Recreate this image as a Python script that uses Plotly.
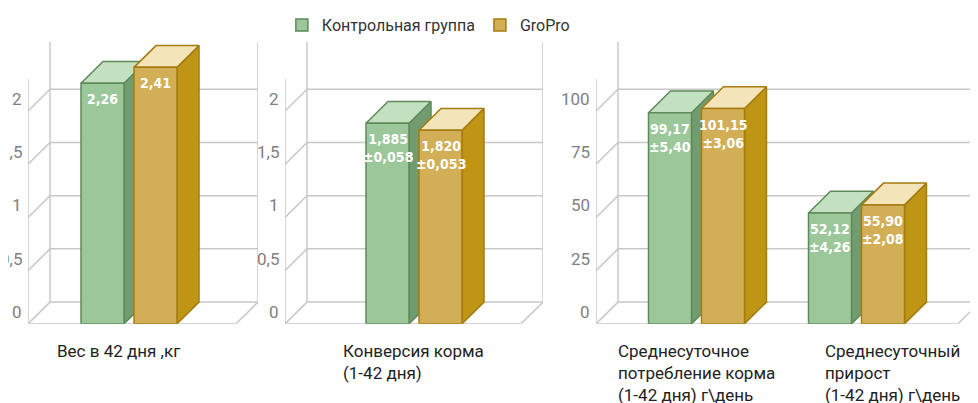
import plotly.graph_objects as go

# ---- data ----
groups = ["Контрольная группа", "GroPro"]
p1_values = [2.26, 2.41]
p1_labels = ["2,26", "2,41"]
p2_values = [1.885, 1.820]
p2_labels = ["1,885<br>±0,058", "1,820<br>±0,053"]
p3_feed = [99.17, 101.15]
p3_feed_labels = ["99,17<br>±5,40", "101,15<br>±3,06"]
p3_gain = [52.12, 55.90]
p3_gain_labels = ["52,12<br>±4,26", "55,90<br>±2,08"]
ticks_12 = [0, 0.5, 1, 1.5, 2]
ticks_12_text = ["0", "0,5", "1", "1,5", "2"]
ticks_3 = [0, 25, 50, 75, 100]
ticks_3_text = ["0", "25", "50", "75", "100"]
captions = ["Вес в 42 дня ,кг", "Конверсия корма<br>(1-42 дня)",
            "Среднесуточное<br>потребление корма<br>(1-42 дня) г\\день",
            "Среднесуточный<br>прирост<br>(1-42 дня) г\\день"]

front = ["#9cc79a", "#d2ae56"]
side = ["#739b70", "#be9515"]
top = ["#c3e0c1", "#f3e4ba"]
edge = ["#5e8a5b", "#a57b10"]
grid = "#c8c8c8"

W, H = 978, 403
PX_UNIT = 160.0
bw, gap = 43 / PX_UNIT, 10 / PX_UNIT
dxp = 22
y0px, toppx = 315, 30

panels = [
    dict(left=20, right=250, centers=[121], ppu=107.5, ticks=ticks_12, tt=ticks_12_text,
         data=[(p1_values, p1_labels)], wall_top=2.3),
    dict(left=277, right=535, centers=[406], ppu=107.5, ticks=ticks_12, tt=ticks_12_text,
         data=[(p2_values, p2_labels)], wall_top=2.3),
    dict(left=588, right=972, centers=[688.5, 848.5], ppu=2.15, ticks=ticks_3, tt=ticks_3_text,
         data=[(p3_feed, p3_feed_labels), (p3_gain, p3_gain_labels)], wall_top=115),
]

fig = go.Figure()
ann = []
for i, p in enumerate(panels):
    xa = "x" if i == 0 else f"x{i+1}"
    ya = "y" if i == 0 else f"y{i+1}"
    c0 = p["centers"][0]
    xl = -(c0 - p["left"]) / PX_UNIT
    xr = (p["right"] - c0) / PX_UNIT
    dx = dxp / PX_UNIT
    dy = dxp / p["ppu"]
    ytop = (y0px - toppx) / p["ppu"]
    lay = dict(domain=[p["left"] / W, p["right"] / W], range=[xl, xr], visible=False, fixedrange=True)
    layy = dict(domain=[(H - y0px) / H, (H - toppx) / H], range=[0, ytop], visible=False, fixedrange=True)
    if i == 0:
        fig.update_layout(xaxis=lay, yaxis=layy)
    else:
        fig.update_layout(**{f"xaxis{i+1}": dict(lay, anchor=ya), f"yaxis{i+1}": dict(layy, anchor=xa)})

    def line(xs, ys):
        fig.add_trace(go.Scatter(x=xs, y=ys, mode="lines", line=dict(color=grid, width=1.5),
                                 xaxis=xa, yaxis=ya, showlegend=False, hoverinfo="skip"))
    line([xl + dx, xl + dx], [dy, ytop])
    line([xr, xr], [dy, ytop])
    line([xl, xl], [0, p["wall_top"]])
    for t, tt in zip(p["ticks"], p["tt"]):
        line([xl, xl + dx, xr], [t, t + dy, t + dy])
        ann.append(dict(x=xl, y=t, xref=xa, yref=ya, text=tt, showarrow=False, xanchor="right",
                        yanchor="bottom", xshift=-4, yshift=0,
                        font=dict(size=17, color="#808080", family="Roboto")))
    line([xl, xr - dx, xr], [0, 0, dy])

    for c, (vals, labs) in zip(p["centers"], p["data"]):
        gc = (c - c0) / PX_UNIT
        for g in range(2):
            cx = gc + (g - 0.5) * (bw + gap)
            a, b, v = cx - bw / 2, cx + bw / 2, vals[g]
            fig.add_trace(go.Scatter(x=[b, b + dx, b + dx, b, b], y=[0, dy, v + dy, v, 0], fill="toself",
                                     fillcolor=side[g], mode="lines", line=dict(color=edge[g], width=1.5),
                                     xaxis=xa, yaxis=ya, showlegend=False, hoverinfo="skip"))
            fig.add_trace(go.Scatter(x=[a, b, b + dx, a + dx, a], y=[v, v, v + dy, v + dy, v], fill="toself",
                                     fillcolor=top[g], mode="lines", line=dict(color=edge[g], width=1.5),
                                     xaxis=xa, yaxis=ya, showlegend=False, hoverinfo="skip"))
            fig.add_trace(go.Scatter(x=[a, b, b, a, a], y=[0, 0, v, v, 0], fill="toself",
                                     fillcolor=front[g], mode="lines", line=dict(color=edge[g], width=1.5),
                                     xaxis=xa, yaxis=ya, showlegend=False, hoverinfo="skip"))
            ann.append(dict(x=cx, y=v, xref=xa, yref=ya, text="<b>" + labs[g] + "</b>", showarrow=False,
                            xanchor="center", yanchor="top", yshift=-6,
                            font=dict(size=14, color="white", family="DejaVu Sans Condensed")))

for g in range(2):
    fig.add_trace(go.Bar(x=[None], y=[None], name=groups[g], marker=dict(color=front[g],
                         line=dict(color=edge[g], width=1.5))))

cap_x = [47, 333, 608, 815]
for cx, t in zip(cap_x, captions):
    ann.append(dict(x=cx / W, y=(H - 330) / H, xref="paper", yref="paper", text=t, showarrow=False,
                    xanchor="left", yanchor="top", align="left",
                    font=dict(size=17, color="#222", family="Roboto")))

fig.update_layout(width=W, height=H, margin=dict(l=0, r=0, t=0, b=0), plot_bgcolor="white",
                  paper_bgcolor="white", annotations=ann,
                  legend=dict(orientation="h", x=0.28, xanchor="left", y=1.01, yanchor="top",
                              font=dict(size=16, color="#333", family="Roboto"), itemwidth=30,
                              bgcolor="rgba(0,0,0,0)"))
fig.write_html("out.html")
